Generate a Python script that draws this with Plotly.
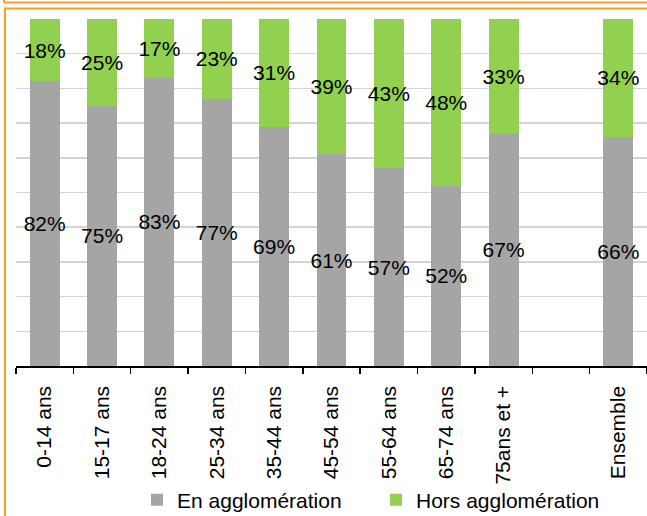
import plotly.graph_objects as go

categories = ["0-14 ans", "15-17 ans", "18-24 ans", "25-34 ans", "35-44 ans", "45-54 ans",
              "55-64 ans", "65-74 ans", "75ans et +", " ", "Ensemble"]
en_agglo = [82, 75, 83, 77, 69, 61, 57, 52, 67, None, 66]
hors_agglo = [18, 25, 17, 23, 31, 39, 43, 48, 33, None, 34]
series_names = ["En agglomération", "Hors agglomération"]
colors = ["#A5A5A5", "#92D050"]

def labels(vals):
    return [f"{v}%" if v is not None else "" for v in vals]

fig = go.Figure()
for name, vals, col in zip(series_names, [en_agglo, hors_agglo], colors):
    fig.add_trace(go.Bar(
        x=categories, y=vals, name=name, marker=dict(color=col, line=dict(width=0)),
        text=labels(vals), textposition="inside", insidetextanchor="middle",
        textangle=0, constraintext="none",
        textfont=dict(family="Liberation Sans, Arial", size=21, color="black"),
        hoverinfo="skip",
    ))

W, H = 647, 516
L, R, T, B = 16, 0, 19, 150
pw, ph = W - L - R, H - T - B

def px(x):
    return (x - L) / pw

def py(y):
    return (H - B - y) / ph

orange = "#FA9E1E"
shapes = [
    dict(type="line", xref="paper", yref="paper", x0=px(4), x1=px(660), y0=py(2.5), y1=py(2.5),
         line=dict(color=orange, width=2)),
    dict(type="line", xref="paper", yref="paper", x0=px(4), x1=px(4), y0=py(-5), y1=py(2.5),
         line=dict(color=orange, width=2)),
    dict(type="rect", xref="paper", yref="paper", x0=px(5), x1=px(670), y0=py(8.5), y1=py(530),
         line=dict(color=orange, width=2), fillcolor="rgba(0,0,0,0)"),
]

fig.update_layout(
    width=W, height=H, barmode="stack", bargap=0.48,
    margin=dict(l=L, r=R, t=T, b=B, pad=0, autoexpand=False),
    paper_bgcolor="white", plot_bgcolor="white",
    font=dict(family="Liberation Sans, Arial", size=21, color="black"),
    showlegend=True,
    legend=dict(orientation="h", xref="container", yref="container",
                x=137 / W, xanchor="left", y=(H - 500) / H, yanchor="middle",
                bgcolor="rgba(0,0,0,0)",
                font=dict(size=21, color="black"), traceorder="normal",
                entrywidth=194, entrywidthmode="pixels", itemclick=False),
    shapes=shapes,
    xaxis=dict(type="category", categoryorder="array", categoryarray=categories,
               tickson="boundaries", ticks="outside", ticklen=6, tickwidth=1.5, tickcolor="black",
               showline=True, linecolor="black", linewidth=1.5, tickangle=-90,
               ticklabelstandoff=10, automargin=False,
               tickfont=dict(size=21, color="black"), showgrid=False),
    yaxis=dict(range=[0, 100], dtick=10, showticklabels=False, showgrid=True, automargin=False,
               gridcolor="#D4D4D4", gridwidth=1.5, zeroline=False, showline=False, ticks=""),
)

fig.write_html("out.html", config={"displayModeBar": False, "staticPlot": True},
               post_script="document.body.style.margin='0';document.body.style.overflow='hidden';")
